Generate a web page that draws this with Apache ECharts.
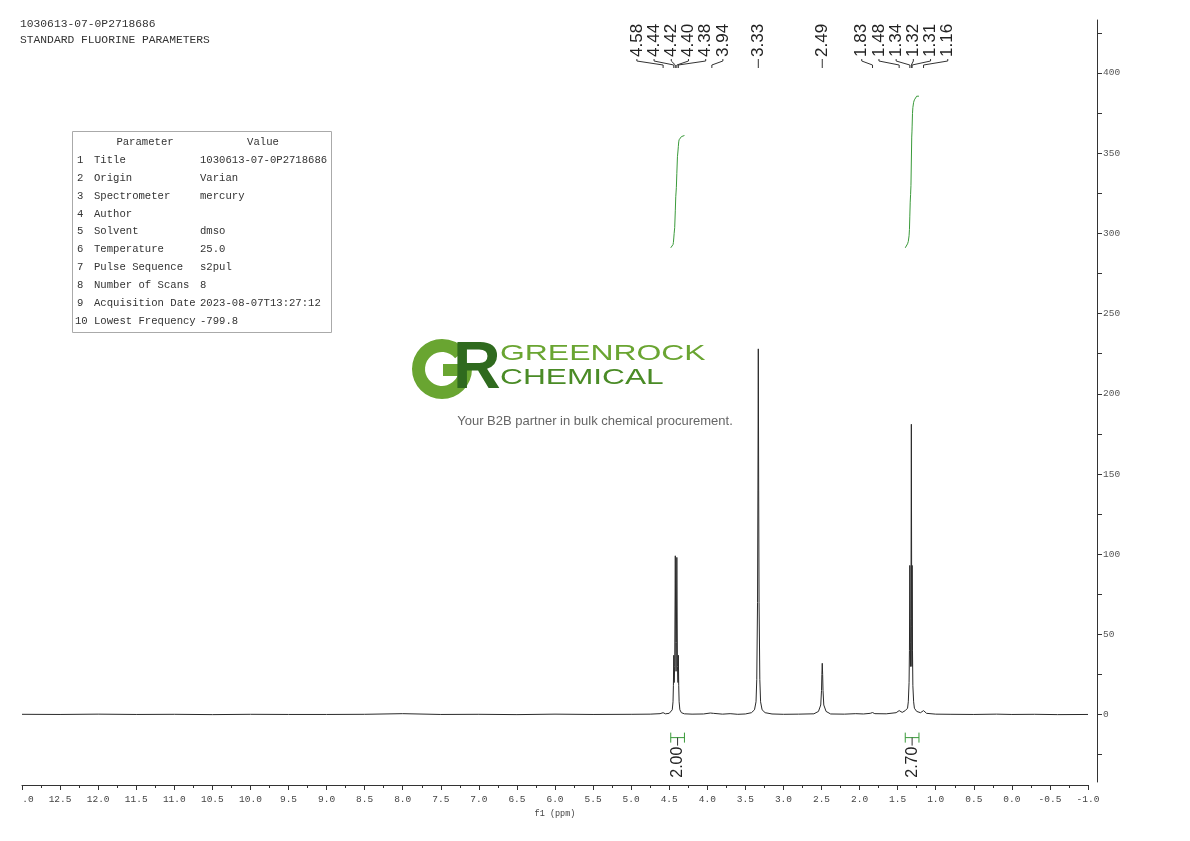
<!DOCTYPE html>
<html><head><meta charset="utf-8">
<script src="https://cdn.jsdelivr.net/npm/echarts@6/dist/echarts.min.js"></script>
<style>html,body{margin:0;padding:0;background:#fff}#c{width:1190px;height:841px}</style>
</head><body><div id="c"></div>
<script>
// ---------- data ----------
const headerLines = ['1030613-07-0P2718686', 'STANDARD FLUORINE PARAMETERS'];
const paramNames = ['Title','Origin','Spectrometer','Author','Solvent','Temperature','Pulse Sequence','Number of Scans','Acquisition Date','Lowest Frequency'];
const paramValues = ['1030613-07-0P2718686','Varian','mercury','','dmso','25.0','s2pul','8','2023-08-07T13:27:12','-799.8'];

// spectrum (ppm, intensity)
const specPpm = [13.0,12.5,12.0,11.5,11.0,10.5,10.0,9.5,9.0,8.5,8.0,7.5,7.0,6.5,6.0,5.5,5.0,4.75,4.62,4.58,4.55,4.50,
  4.48,4.46,4.45,4.445,4.44,4.435,4.428,4.42,4.414,4.41,4.406,4.40,4.392,4.385,4.38,4.375,4.37,4.36,4.34,4.30,
  4.2,4.05,3.96,3.94,3.92,3.8,3.7,3.6,3.5,3.42,3.38,3.36,3.35,3.34,3.335,3.33,3.325,3.32,3.31,3.30,3.28,3.24,3.15,
  3.0,2.8,2.6,2.54,2.51,2.50,2.495,2.49,2.485,2.48,2.47,2.44,2.38,2.2,2.05,1.95,1.86,1.83,1.80,1.65,1.52,1.48,1.44,
  1.40,1.37,1.36,1.35,1.345,1.34,1.335,1.33,1.325,1.32,1.315,1.312,1.31,1.305,1.30,1.29,1.28,1.25,1.20,1.16,1.12,
  1.0,0.8,0.5,0.2,0.0,-0.3,-0.6,-1.0];
const specInt = [0.2,0.1,0.3,0.1,0.2,0.0,0.2,0.1,0.1,0.2,0.6,0.1,0.2,0.0,0.3,0.1,0.2,0.3,0.6,1.2,0.5,0.8,
  1.4,3,8,18,37,20,30,99,45,27,45,98,30,20,37,18,8,3,1.2,0.5,
  0.3,0.4,1.0,1.8,0.8,0.3,0.6,0.2,0.4,1.2,3,8,22,70,140,228,140,70,22,8,3,1.2,0.4,
  0.2,0.3,0.5,2,6,15,25,32,25,15,6,2,0.4,0.3,0.6,0.4,0.8,1.3,0.6,0.5,1.2,2.5,1.4,
  2.5,4,8,20,40,93,45,30,60,181,55,30,93,40,18,8,4,2,1.2,2.5,0.8,
  0.3,0.2,0.1,0.3,0.1,0.2,0.0,0.1];

const peakLabels = [4.58,4.44,4.42,4.40,4.38,3.94,3.33,2.49,1.83,1.48,1.34,1.32,1.31,1.16];
const integralRanges = [[4.48, 4.30], [1.40, 1.22]];
const integralValues = [2.00, 2.70];

const yTickValues = [-25,0,25,50,75,100,125,150,175,200,225,250,275,300,325,350,375,400,425];
const yLabelValues = [0,50,100,150,200,250,300,350,400];

// ---------- build ----------
const specData = specPpm.map((p, i) => [p, specInt[i]]);
const INT_BASE = 291, INT_PER_UNIT = 35;

function integralCurve(range, value) {
  const pts = specData.filter(d => d[0] <= range[0] && d[0] >= range[1]);
  let cum = [0];
  for (let i = 1; i < pts.length; i++) {
    cum.push(cum[i-1] + (pts[i-1][0] - pts[i][0]) * (pts[i-1][1] + pts[i][1]) / 2);
  }
  const total = cum[cum.length - 1];
  const out = [[range[0], INT_BASE]];
  pts.forEach((d, i) => out.push([d[0], INT_BASE + cum[i] / total * value * INT_PER_UNIT]));
  out.push([range[1], INT_BASE + value * INT_PER_UNIT]);
  return out;
}

const monoFont = '"Liberation Mono", "DejaVu Sans Mono", monospace';
const labelFont = '"Liberation Sans", Arial, sans-serif';

function renderPeakLabels(params, api) {
  if (params.dataIndex !== 0) return null;
  const d = 17.2;
  const px = peakLabels.map(p => api.coord([p, 0])[0]);
  let clusters = px.map((x, i) => ({ idx: [i], c: x }));
  const pos = cl => cl.idx.map((_, k) => cl.c + (k - (cl.idx.length - 1) / 2) * d);
  let changed = true;
  while (changed) {
    changed = false;
    for (let i = 0; i < clusters.length - 1; i++) {
      const a = pos(clusters[i]), b = pos(clusters[i + 1]);
      if (a[a.length - 1] + d > b[0] + 0.01) {
        const idx = clusters[i].idx.concat(clusters[i + 1].idx);
        const c = idx.reduce((s, j) => s + px[j], 0) / idx.length;
        clusters.splice(i, 2, { idx, c });
        changed = true;
        break;
      }
    }
  }
  const lx = [];
  clusters.forEach(cl => pos(cl).forEach((x, k) => { lx[cl.idx[k]] = x; }));
  const top = params.coordSys.y;
  const children = [];
  peakLabels.forEach((p, i) => {
    children.push({
      type: 'text', x: lx[i], y: top + 37, rotation: Math.PI / 2,
      style: { text: p.toFixed(2), font: '17px ' + labelFont, fill: '#222', align: 'left', verticalAlign: 'middle' }
    });
    children.push({
      type: 'polyline',
      shape: { points: [[lx[i], top + 39], [lx[i], top + 41], [px[i], top + 45], [px[i], top + 48]] },
      style: { stroke: '#333', lineWidth: 1, fill: null }
    });
  });
  return { type: 'group', children };
}

function renderIntegralLabels(params, api) {
  const i = params.dataIndex;
  const r = integralRanges[i];
  const x0 = api.coord([r[0], 0])[0], x1 = api.coord([r[1], 0])[0];
  const y0 = api.coord([0, 0])[1];
  const by = y0 + 23, xm = (x0 + x1) / 2;
  return {
    type: 'group', children: [
      { type: 'polyline', shape: { points: [[x0, by - 5], [x0, by + 5]] }, style: { stroke: '#3a9a3a', lineWidth: 1, fill: null } },
      { type: 'polyline', shape: { points: [[x1, by - 5], [x1, by + 5]] }, style: { stroke: '#3a9a3a', lineWidth: 1, fill: null } },
      { type: 'polyline', shape: { points: [[x0, by], [x1, by]] }, style: { stroke: '#3a9a3a', lineWidth: 1, fill: null } },
      { type: 'polyline', shape: { points: [[xm, by], [xm, by + 8]] }, style: { stroke: '#333', lineWidth: 1, fill: null } },
      { type: 'text', x: xm, y: by + 9, rotation: Math.PI / 2,
        style: { text: integralValues[i].toFixed(2), font: '16px ' + labelFont, fill: '#222', align: 'right', verticalAlign: 'middle' } }
    ]
  };
}

// graphic: header, parameter table, watermark
const graphics = [];
headerLines.forEach((t, i) => graphics.push({
  type: 'text', left: 20, top: 19 + i * 16,
  style: { text: t, font: '11.3px ' + monoFont, fill: '#333' }
}));
graphics.push({ type: 'rect', shape: { x: 72.5, y: 131.5, width: 259, height: 201 }, style: { fill: 'none', stroke: '#aaa', lineWidth: 1 } });
graphics.push({ type: 'text', x: 145, y: 142, style: { text: 'Parameter', font: '10.6px ' + monoFont, fill: '#333', align: 'center', verticalAlign: 'middle' } });
graphics.push({ type: 'text', x: 263, y: 142, style: { text: 'Value', font: '10.6px ' + monoFont, fill: '#333', align: 'center', verticalAlign: 'middle' } });
paramNames.forEach((n, i) => {
  const y = 160 + i * 17.9;
  graphics.push({ type: 'text', x: i === 9 ? 75 : 77, y, style: { text: String(i + 1), font: '10.6px ' + monoFont, fill: '#333', verticalAlign: 'middle' } });
  graphics.push({ type: 'text', x: 94, y, style: { text: n, font: '10.6px ' + monoFont, fill: '#333', verticalAlign: 'middle' } });
  graphics.push({ type: 'text', x: 200, y, style: { text: paramValues[i], font: '10.6px ' + monoFont, fill: '#333', verticalAlign: 'middle' } });
});
// watermark logo
graphics.push({ type: 'sector', shape: { cx: 442, cy: 369, r: 30, r0: 17, startAngle: 0, endAngle: Math.PI * 1.78, clockwise: true }, style: { fill: '#69a531' }, z: 1 });
graphics.push({ type: 'rect', shape: { x: 443, y: 364, width: 28, height: 12 }, style: { fill: '#69a531' }, z: 1 });
graphics.push({ type: 'text', x: 453, y: 370, style: { text: 'R', font: 'bold 66px "Liberation Sans", Arial', fill: '#2f6a1e', verticalAlign: 'middle' }, z: 1 });
graphics.push({ type: 'text', x: 500, y: 354, scaleX: 1.45, style: { text: 'GREENROCK', font: '22px "Liberation Sans", Arial', fill: '#6aa532', verticalAlign: 'middle' }, z: 1 });
graphics.push({ type: 'text', x: 500, y: 378, scaleX: 1.44, style: { text: 'CHEMICAL', font: '22px "Liberation Sans", Arial', fill: '#4a8b26', verticalAlign: 'middle' }, z: 1 });
graphics.push({ type: 'text', x: 595, y: 421, style: { text: 'Your B2B partner in bulk chemical procurement.', font: '13px "Liberation Sans", Arial', fill: '#666', align: 'center', verticalAlign: 'middle' }, z: 1 });

const chart = echarts.init(document.getElementById('c'));
chart.setOption({
  animation: false,
  backgroundColor: '#fff',
  graphic: graphics,
  grid: { left: 22, right: 102, top: 20, bottom: 59 },
  xAxis: {
    type: 'value', min: -1, max: 13, interval: 0.5, inverse: true, offset: 3,
    axisLine: { onZero: false, lineStyle: { color: '#333', width: 1 } },
    axisTick: { show: true, length: 5, lineStyle: { color: '#333' } },
    minorTick: { show: true, splitNumber: 2, length: 3, lineStyle: { color: '#333' } },
    splitLine: { show: false },
    axisLabel: {
      margin: 9, color: '#444', fontFamily: monoFont, fontSize: 9.5,
      formatter: v => (Math.abs(v - 13) < 1e-6 ? '{c|.0}' : v.toFixed(1)),
      rich: { c: { padding: [0, 0, 0, 12], fontFamily: monoFont, fontSize: 9.5, color: '#444' } }
    },
    name: 'f1 (ppm)', nameLocation: 'middle', nameGap: 22,
    nameTextStyle: { fontFamily: monoFont, fontSize: 8.5, color: '#444' }
  },
  yAxis: {
    type: 'value', position: 'right', min: -42, max: 433, offset: 9,
    axisLine: { show: true, onZero: false, lineStyle: { color: '#333', width: 1 } },
    axisTick: { show: true, length: 5, customValues: yTickValues, lineStyle: { color: '#333' } },
    axisLabel: { customValues: yLabelValues, margin: 6, color: '#555', fontFamily: monoFont, fontSize: 9.5 },
    splitLine: { show: false }
  },
  series: [
    { type: 'line', data: specData, showSymbol: false, symbol: 'none', lineStyle: { color: '#2a2a2a', width: 1 }, z: 3 },
    { type: 'line', data: integralCurve(integralRanges[0], integralValues[0]), showSymbol: false, symbol: 'none', lineStyle: { color: '#3a9a3a', width: 1 }, z: 3 },
    { type: 'line', data: integralCurve(integralRanges[1], integralValues[1]), showSymbol: false, symbol: 'none', lineStyle: { color: '#3a9a3a', width: 1 }, z: 3 },
    { type: 'custom', data: peakLabels.map(p => [p, 0]), renderItem: renderPeakLabels, clip: false, z: 4 },
    { type: 'custom', data: integralRanges.map(r => [(r[0] + r[1]) / 2, 0]), renderItem: renderIntegralLabels, clip: false, z: 4 }
  ]
});
</script></body></html>
